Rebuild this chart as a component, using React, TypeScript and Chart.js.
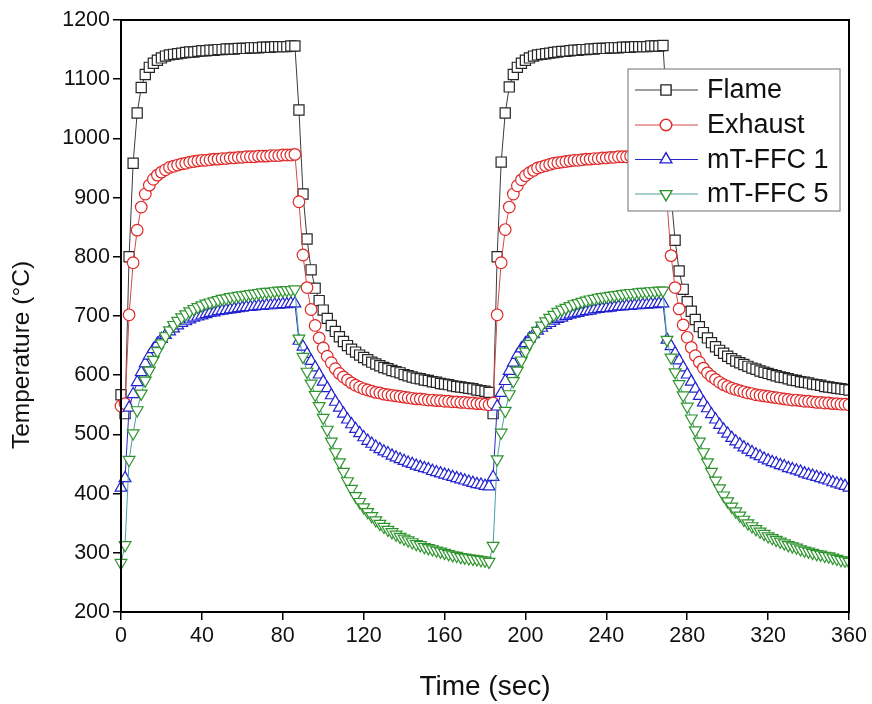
import React, { useEffect, useRef } from 'react';
import { Chart, registerables } from 'chart.js';

Chart.register(...registerables);

// Time (sec)
const TIME = [
  0, 2, 4, 6, 8, 10, 12, 14, 16, 18, 20, 22, 24, 26, 28, 30, 32, 34, 36, 38,
  40, 42, 44, 46, 48, 50, 52, 54, 56, 58, 60, 62, 64, 66, 68, 70, 72, 74, 76, 78,
  80, 82, 84, 86, 88, 90, 92, 94, 96, 98, 100, 102, 104, 106, 108, 110, 112, 114, 116, 118,
  120, 122, 124, 126, 128, 130, 132, 134, 136, 138, 140, 142, 144, 146, 148, 150, 152, 154, 156, 158,
  160, 162, 164, 166, 168, 170, 172, 174, 176, 178, 180, 182, 184, 186, 188, 190, 192, 194, 196, 198,
  200, 202, 204, 206, 208, 210, 212, 214, 216, 218, 220, 222, 224, 226, 228, 230, 232, 234, 236, 238,
  240, 242, 244, 246, 248, 250, 252, 254, 256, 258, 260, 262, 264, 266, 268, 270, 272, 274, 276, 278,
  280, 282, 284, 286, 288, 290, 292, 294, 296, 298, 300, 302, 304, 306, 308, 310, 312, 314, 316, 318,
  320, 322, 324, 326, 328, 330, 332, 334, 336, 338, 340, 342, 344, 346, 348, 350, 352, 354, 356, 358,
  360,
];

const FLAME = [
  567, 535, 800, 958, 1043, 1086, 1108, 1120, 1127, 1132,
  1136, 1139, 1141, 1142, 1143, 1144, 1145, 1146, 1146, 1147,
  1148, 1148, 1149, 1149, 1150, 1150, 1151, 1151, 1151, 1152,
  1152, 1152, 1153, 1153, 1153, 1154, 1154, 1154, 1155, 1155,
  1155, 1155, 1156, 1156, 1048, 906, 830, 778, 747, 726,
  710, 696, 684, 674, 665, 657, 650, 644, 639, 634,
  630, 626, 622, 619, 616, 613, 611, 608, 606, 604,
  601, 599, 597, 595, 594, 592, 591, 589, 588, 586,
  585, 584, 582, 581, 580, 579, 578, 577, 575, 574,
  573,
  571, 535, 800, 960, 1043, 1087, 1108, 1120, 1127, 1132,
  1136, 1139, 1141, 1142, 1143, 1144, 1145, 1146, 1147, 1147,
  1148, 1149, 1149, 1150, 1150, 1151, 1151, 1152, 1152, 1152,
  1153, 1153, 1153, 1154, 1154, 1154, 1155, 1155, 1155, 1155,
  1156, 1156, 1156, 1157, 1046, 905, 828, 776, 745, 724,
  708, 694, 682, 672, 663, 655, 648, 642, 637, 632,
  628, 624, 621, 618, 615, 612, 610, 607, 605, 603,
  601, 599, 597, 596, 594, 592, 591, 589, 588, 587,
  585, 584, 583, 581, 580, 579, 578, 577, 576, 575,
];

const EXHAUST = [
  548, 552, 702, 790, 845, 884, 906, 921, 931, 938,
  943, 947, 951, 953, 955, 957, 958, 960, 961, 962,
  963, 963, 964, 965, 965, 966, 966, 967, 967, 968,
  968, 969, 969, 969, 970, 970, 970, 971, 971, 971,
  972, 972, 972, 973, 893, 803, 748, 711, 684, 663,
  646, 632, 621, 611, 603, 597, 592, 587, 583, 580,
  577, 575, 573, 571, 570, 568, 567, 566, 565, 564,
  563, 562, 561, 560, 560, 559, 558, 558, 557, 557,
  556, 556, 555, 555, 554, 554, 553, 553, 552, 552,
  551,
  550, 553, 702, 790, 846, 884, 906, 920, 930, 937,
  942, 946, 950, 952, 954, 956, 958, 959, 960, 961,
  962, 963, 963, 964, 965, 965, 966, 966, 967, 967,
  968, 968, 969, 969, 969, 970, 970, 970, 971, 971,
  971, 972, 972, 972, 892, 802, 748, 712, 685, 664,
  647, 633, 622, 612, 604, 598, 593, 588, 584, 581,
  578, 576, 574, 572, 570, 569, 567, 566, 565, 564,
  563, 562, 561, 560, 559, 558, 558, 557, 556, 556,
  555, 554, 554, 553, 553, 552, 552, 551, 551, 550,
];

const FFC1 = [
  410, 426, 545, 568, 588, 605, 620, 633, 644, 653,
  661, 668, 674, 679, 684, 688, 691, 694, 697, 699,
  701, 703, 705, 706, 708, 709, 710, 711, 712, 713,
  714, 715, 715, 716, 717, 717, 718, 718, 719, 719,
  720, 720, 721, 721, 658, 648, 636, 624, 613, 601,
  589, 578, 566, 555, 545, 535, 525, 517, 509, 502,
  495, 489, 484, 479, 475, 471, 468, 464, 461, 458,
  455, 452, 450, 447, 445, 443, 441, 438, 436, 434,
  432, 430, 428, 426, 424, 422, 420, 418, 416, 415,
  413,
  412, 428, 547, 570, 590, 607, 621, 634, 645, 654,
  662, 669, 675, 680, 685, 688, 692, 695, 697, 700,
  702, 704, 705, 707, 708, 709, 711, 712, 713, 713,
  714, 715, 716, 716, 717, 717, 718, 718, 719, 719,
  720, 720, 721, 721, 660, 649, 637, 625, 613, 601,
  589, 577, 565, 554, 544, 534, 525, 516, 508, 501,
  494, 488, 483, 478, 474, 470, 466, 463, 459, 456,
  453, 451, 448, 446, 443, 441, 439, 437, 434, 432,
  430, 428, 426, 424, 422, 419, 417, 415, 413, 410,
];

const FFC5 = [
  283, 313, 457, 502, 541, 569, 591, 608, 626, 641,
  654, 666, 676, 685, 692, 698, 703, 708, 712, 715,
  718, 721, 723, 725, 727, 729, 730, 732, 733, 734,
  735, 736, 737, 738, 739, 740, 741, 741, 742, 743,
  743, 744, 744, 745, 662, 631, 606, 586, 567, 548,
  528, 508, 488, 470, 453, 437, 421, 408, 396, 386,
  377, 369, 362, 355, 349, 344, 339, 335, 331, 327,
  324, 321, 318, 315, 313, 310, 308, 306, 304, 302,
  300, 298, 296, 295, 293, 292, 291, 290, 289, 288,
  287,
  285, 312, 458, 503, 540, 568, 590, 608, 625, 640,
  653, 665, 675, 684, 691, 697, 702, 707, 711, 714,
  717, 720, 722, 724, 726, 728, 729, 731, 732, 733,
  734, 735, 736, 737, 738, 739, 739, 740, 741, 741,
  742, 742, 743, 743, 660, 630, 605, 585, 566, 547,
  527, 507, 488, 470, 453, 437, 422, 409, 397, 387,
  378, 370, 363, 356, 350, 345, 340, 336, 332, 328,
  325, 322, 319, 316, 313, 311, 309, 306, 304, 302,
  300, 298, 297, 295, 294, 292, 290, 288, 287, 285,
];

const X_TICKS = [0, 40, 80, 120, 160, 200, 240, 280, 320, 360];
const Y_TICKS = [200, 300, 400, 500, 600, 700, 800, 900, 1000, 1100, 1200];

const SERIES_NAMES = ['Flame', 'Exhaust', 'mT-FFC 1', 'mT-FFC 5'];
const SERIES_VALUES = [FLAME, EXHAUST, FFC1, FFC5];
const X_TITLE = 'Time (sec)';
const Y_TITLE = 'Temperature (°C)';

const STYLES = [
  { line: '#3c3c3c', marker: '#262626', shape: 'rect', radius: 7.2, rotation: 0, order: 4 },
  { line: '#d24848', marker: '#e02828', shape: 'circle', radius: 5.8, rotation: 0, order: 3 },
  { line: '#2a2ac8', marker: '#2222d0', shape: 'triangle', radius: 6.8, rotation: 0, order: 2 },
  { line: '#48a0a0', marker: '#2e942e', shape: 'triangle', radius: 6.8, rotation: 180, order: 1 },
];

const FONT = '"Liberation Sans", Arial, Helvetica, sans-serif';

function drawMarker(ctx, shape, x, y, r, rotation) {
  ctx.beginPath();
  if (shape === 'rect') {
    const s = Math.SQRT1_2 * r;
    ctx.rect(x - s, y - s, 2 * s, 2 * s);
  } else if (shape === 'circle') {
    ctx.arc(x, y, r, 0, Math.PI * 2);
  } else {
    let rad = (rotation * Math.PI) / 180;
    ctx.moveTo(x + Math.sin(rad) * r, y - Math.cos(rad) * r);
    rad += (2 * Math.PI) / 3;
    ctx.lineTo(x + Math.sin(rad) * r, y - Math.cos(rad) * r);
    rad += (2 * Math.PI) / 3;
    ctx.lineTo(x + Math.sin(rad) * r, y - Math.cos(rad) * r);
    ctx.closePath();
  }
  ctx.fillStyle = '#fff';
  ctx.fill();
  ctx.stroke();
}

const framePlugin = {
  id: 'frameAndLegend',
  afterDraw(chart) {
    const ctx = chart.ctx;
    const a = chart.chartArea;
    ctx.save();
    ctx.strokeStyle = '#000';
    ctx.lineWidth = 2;
    ctx.strokeRect(a.left, a.top, a.right - a.left, a.bottom - a.top);

    // y-axis title
    ctx.save();
    ctx.translate(22, 355);
    ctx.rotate(-Math.PI / 2);
    ctx.fillStyle = '#111';
    ctx.font = `24.5px ${FONT}`;
    ctx.textAlign = 'center';
    ctx.textBaseline = 'middle';
    ctx.fillText(Y_TITLE, 0, 0);
    ctx.restore();

    // legend box
    const bx = 628, by = 69, bw = 212, bh = 142;
    ctx.fillStyle = '#fff';
    ctx.fillRect(bx, by, bw, bh);
    ctx.strokeStyle = '#888';
    ctx.lineWidth = 1.2;
    ctx.strokeRect(bx, by, bw, bh);
    const rows = [90, 125, 159.5, 194];
    SERIES_NAMES.forEach((name, i) => {
      const st = STYLES[i];
      const y = rows[i];
      ctx.strokeStyle = st.line;
      ctx.lineWidth = 1.2;
      ctx.beginPath();
      ctx.moveTo(635, y);
      ctx.lineTo(698, y);
      ctx.stroke();
      ctx.strokeStyle = st.marker;
      ctx.lineWidth = 1.4;
      drawMarker(ctx, st.shape, 666, y, st.radius, st.rotation);
      ctx.fillStyle = '#111';
      ctx.font = `27px ${FONT}`;
      ctx.textBaseline = 'middle';
      ctx.textAlign = 'left';
      ctx.fillText(name, 707, y + 1);
    });
    ctx.restore();
  },
};

export default function App() {
  const ref = useRef(null);

  useEffect(() => {
    const canvas = ref.current;
    if (!canvas) return;
    const datasets = SERIES_NAMES.map((name, i) => {
      const st = STYLES[i];
      return {
        label: name,
        data: TIME.map((t, j) => ({ x: t, y: SERIES_VALUES[i][j] })),
        borderColor: st.line,
        borderWidth: 1,
        pointStyle: st.shape,
        pointRotation: st.rotation,
        pointRadius: st.radius,
        pointBorderColor: st.marker,
        pointBackgroundColor: '#ffffff',
        pointBorderWidth: 1.2,
        fill: false,
        tension: 0,
        order: st.order,
        clip: { left: 10, right: 0, top: 10, bottom: 10 },
      };
    });

    const chart = new Chart(canvas, {
      type: 'line',
      data: { datasets },
      options: {
        animation: false,
        responsive: false,
        devicePixelRatio: 1,
        layout: { padding: { top: 20, right: 23, left: 0, bottom: 0 } },
        plugins: { legend: { display: false }, tooltip: { enabled: false } },
        scales: {
          x: {
            type: 'linear',
            min: 0,
            max: 360,
            afterBuildTicks: (s) => {
              s.ticks = X_TICKS.map((v) => ({ value: v }));
            },
            ticks: {
              color: '#111',
              font: { family: FONT, size: 21.5 },
              padding: 3,
              maxRotation: 0,
              autoSkip: false,
              callback: (v) => String(v),
            },
            grid: {
              display: true,
              drawOnChartArea: false,
              drawTicks: true,
              tickLength: 8,
              color: '#000',
              lineWidth: 1.5,
            },
            border: { display: true, color: '#000', width: 2 },
            title: {
              display: true,
              text: X_TITLE,
              color: '#111',
              font: { family: FONT, size: 28 },
              padding: { top: 4, bottom: 0 },
            },
            afterFit: (s) => {
              s.height = 92;
            },
          },
          y: {
            type: 'linear',
            min: 200,
            max: 1200,
            afterBuildTicks: (s) => {
              s.ticks = Y_TICKS.map((v) => ({ value: v }));
            },
            ticks: {
              color: '#111',
              font: { family: FONT, size: 21.5 },
              padding: 3,
              autoSkip: false,
              callback: (v) => String(v),
            },
            grid: {
              display: true,
              drawOnChartArea: false,
              drawTicks: true,
              tickLength: 8,
              color: '#000',
              lineWidth: 1.5,
            },
            border: { display: true, color: '#000', width: 2 },
            title: { display: false },
            afterFit: (s) => {
              s.width = 121;
            },
          },
        },
      },
      plugins: [framePlugin],
    });
    return () => chart.destroy();
  }, []);

  return (
    <div style={{ position: 'fixed', left: 0, top: 0, width: 872, height: 704, background: '#fff' }}>
      <canvas ref={ref} width={872} height={704} style={{ display: 'block', width: 872, height: 704 }} />
    </div>
  );
}
